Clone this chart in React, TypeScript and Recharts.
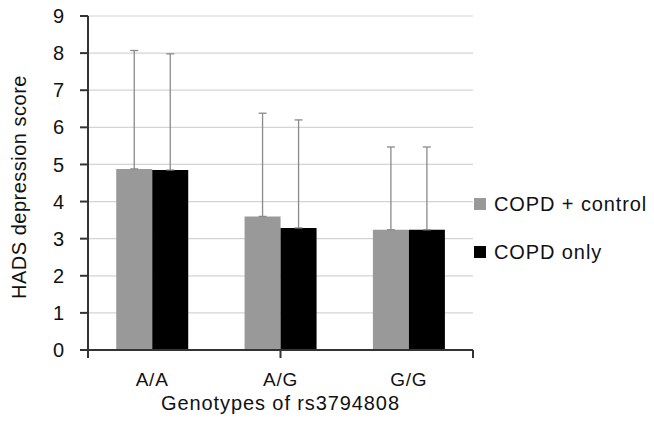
import React from 'react'
import {
  BarChart,
  Bar,
  XAxis,
  YAxis,
  CartesianGrid,
  Legend,
  ErrorBar,
} from 'recharts'

const genotypes = ['A/A', 'A/G', 'G/G']
const copdControl = [4.88, 3.6, 3.24]
const copdOnly = [4.85, 3.29, 3.24]
const copdControlSd = [3.19, 2.78, 2.23]
const copdOnlySd = [3.13, 2.91, 2.23]
const yTicks = [0, 1, 2, 3, 4, 5, 6, 7, 8, 9]
const boundaryTicks = [0, 1, 2, 3]

const data = genotypes.map((g, i) => ({
  genotype: g,
  control: copdControl[i],
  only: copdOnly[i],
  controlErr: [0, copdControlSd[i]],
  onlyErr: [0, copdOnlySd[i]],
}))

const FONT = '"Liberation Sans", Arial, sans-serif'

function LegendBox(props: any) {
  const items = props.payload || []
  return (
    <div style={{ fontFamily: FONT }}>
      {items.map((item: any, i: number) => (
        <div
          key={`leg-${i}`}
          style={{
            display: 'flex',
            alignItems: 'center',
            height: 24,
            marginBottom: 24,
            fontSize: 20,
            letterSpacing: 0.9,
            color: '#111',
          }}
        >
          <span
            style={{
              display: 'inline-block',
              width: 12,
              height: 12,
              background: item.color,
              marginRight: 8,
            }}
          />
          {item.value}
        </div>
      ))}
    </div>
  )
}

// no label on the boundary axis, only its tick lines
const NoLabel = () => <g />

export default function App() {
  return (
    <div style={{ position: 'absolute', left: 0, top: 0, background: '#fff' }}>
      <BarChart
        width={654}
        height={422}
        data={data}
        margin={{ top: 16, right: 181, left: 0, bottom: 8 }}
        barCategoryGap="22%"
        barGap={0}
        style={{ fontFamily: FONT }}
      >
        <CartesianGrid vertical={false} stroke="#d4d4d4" strokeWidth={1.2} />
        {/* number axis only for the tick marks between the groups */}
        <XAxis
          xAxisId={0}
          type="number"
          domain={[0, 3]}
          ticks={boundaryTicks}
          interval={0}
          tick={NoLabel}
          height={1}
          axisLine={{ stroke: '#333', strokeWidth: 2 }}
          tickLine={{ stroke: '#333', strokeWidth: 2 }}
          tickSize={8}
        />
        <XAxis
          xAxisId="cat"
          dataKey="genotype"
          height={63}
          axisLine={false}
          tickLine={false}
          tickSize={0}
          tickMargin={22}
          tick={{ fill: '#111', fontSize: 19, letterSpacing: 0.8 }}
          label={{
            value: 'Genotypes of rs3794808',
            position: 'insideBottom',
            offset: 4,
            fill: '#111',
            fontSize: 20,
            letterSpacing: 0.9,
          }}
        />
        <YAxis
          width={88}
          domain={[0, 9]}
          ticks={yTicks}
          interval={0}
          axisLine={{ stroke: '#333', strokeWidth: 2 }}
          tickLine={{ stroke: '#333', strokeWidth: 2 }}
          tickSize={8}
          tickMargin={16}
          tick={{ fill: '#111', fontSize: 20 }}
          label={{
            value: 'HADS depression score',
            angle: -90,
            position: 'center',
            dx: -25,
            dy: 4,
            fill: '#111',
            fontSize: 20,
            letterSpacing: 0.5,
          }}
        />
        <Legend
          layout="vertical"
          align="center"
          verticalAlign="middle"
          wrapperStyle={{ left: 474, top: 192, width: 180 }}
          content={<LegendBox />}
        />
        <Bar xAxisId="cat" dataKey="control" name="COPD + control" fill="#999999" isAnimationActive={false}>
          <ErrorBar dataKey="controlErr" direction="y" width={4} stroke="#8a8a8a" strokeWidth={1.3} />
        </Bar>
        <Bar xAxisId="cat" dataKey="only" name="COPD only" fill="#000000" isAnimationActive={false}>
          <ErrorBar dataKey="onlyErr" direction="y" width={4} stroke="#8a8a8a" strokeWidth={1.3} />
        </Bar>
      </BarChart>
    </div>
  )
}
